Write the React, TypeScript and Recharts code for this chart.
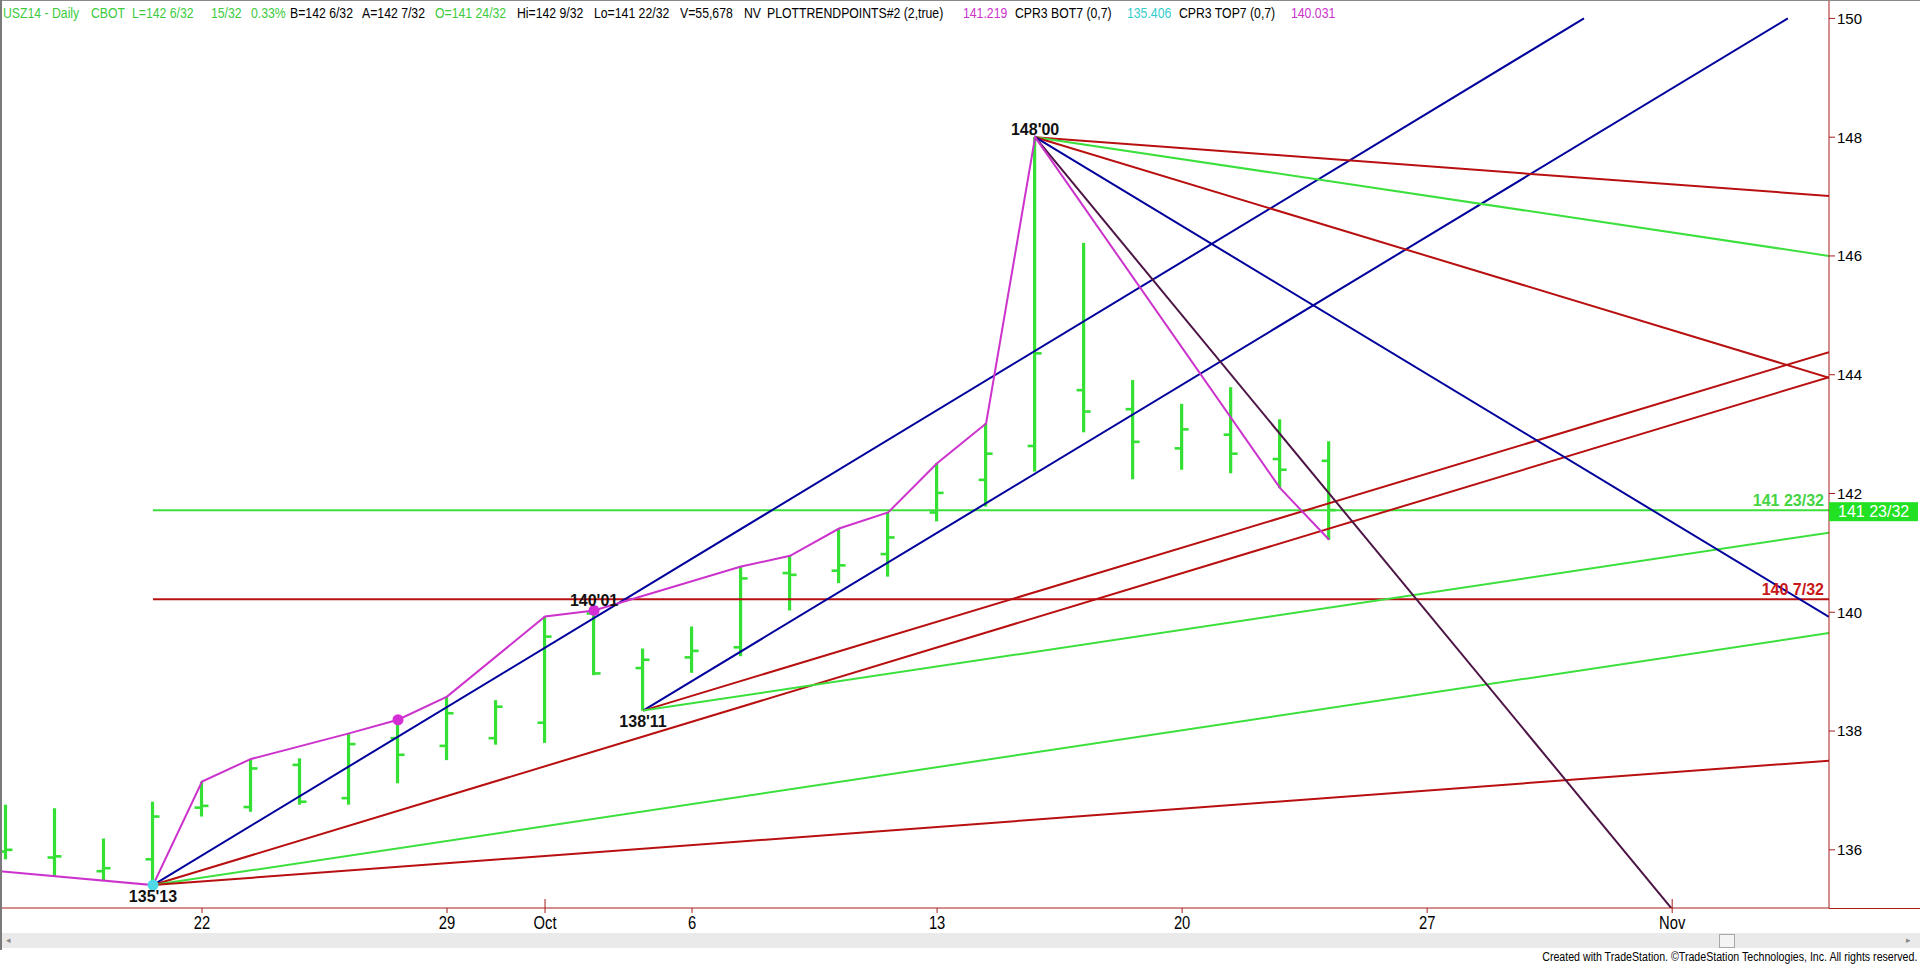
import React from 'react';
import { ComposedChart, Line, Bar, XAxis, YAxis, ReferenceDot } from 'recharts';

// ---------- data ----------
const dates = [
  'Sep 16', 'Sep 17', 'Sep 18', 'Sep 19', 'Sep 22', 'Sep 23', 'Sep 24', 'Sep 25', 'Sep 26',
  'Sep 29', 'Sep 30', 'Oct 1', 'Oct 2', 'Oct 3', 'Oct 6', 'Oct 7', 'Oct 8', 'Oct 9', 'Oct 10',
  'Oct 13', 'Oct 14', 'Oct 15', 'Oct 16', 'Oct 17', 'Oct 20', 'Oct 21', 'Oct 22', 'Oct 23',
];
const opens = [135.97, 135.87, 135.64, 135.84, 136.71, 136.72, 137.43, 136.87, 137.88, 137.75, 137.88, 138.14, 139.98, 139.06, 139.24, 139.41, 140.66, 140.70, 140.98, 141.68, 142.23, 142.80, 143.74, 143.42, 142.76, 142.99, 142.58, 142.55];
const highs = [136.76, 136.70, 136.19, 136.81, 137.15, 137.53, 137.54, 137.96, 138.19, 138.58, 138.52, 139.93, 140.03, 139.39, 139.76, 140.77, 140.95, 141.41, 141.68, 142.51, 143.18, 148.00, 146.22, 143.91, 143.51, 143.79, 143.25, 142.88];
const lows = [135.84, 135.55, 135.49, 135.406, 136.56, 136.64, 136.76, 136.76, 137.12, 137.51, 137.77, 137.80, 138.94, 138.344, 138.98, 139.26, 140.03, 140.49, 140.60, 141.53, 141.78, 142.37, 143.03, 142.24, 142.40, 142.34, 142.09, 141.22];
const closes = [136.00, 135.89, 135.69, 136.56, 136.74, 137.37, 136.81, 137.78, 137.60, 138.30, 138.41, 139.59, 138.97, 139.20, 139.35, 140.57, 140.63, 140.79, 141.26, 142.01, 142.67, 144.36, 143.38, 142.87, 143.08, 142.67, 142.40, 141.72];

const xTickIdx = [4, 9, 11, 14, 19, 24, 29, 34];
const xTickLabels = ['22', '29', 'Oct', '6', '13', '20', '27', 'Nov'];
const yTicks = [136, 138, 140, 142, 144, 146, 148, 150];

// PLOTTRENDPOINTS swing line (bar index, price)
const pinkX = [-0.122, 3, 4, 5, 7, 8, 9, 11, 12, 15, 16, 17, 18, 19, 20, 21, 26, 27];
const pinkY = [135.64, 135.406, 137.15, 137.53, 137.96, 138.19, 138.58, 139.93, 140.03, 140.77, 140.95, 141.41, 141.68, 142.51, 143.18, 148.0, 142.09, 141.22];

// trend lines: start (bar index, price) -> end (bar index, price)
const lineX1 = [3, 3, 3, 3, 13, 13, 13, 21, 21, 21, 21, 21];
const lineY1 = [135.406, 135.406, 135.406, 135.406, 138.344, 138.344, 138.344, 148.0, 148.0, 148.0, 148.0, 148.0];
const lineX2 = [32.2, 37.2, 37.2, 37.2, 36.36, 37.2, 37.2, 37.2, 37.2, 37.2, 37.2, 34.0];
const lineY2 = [150.0, 143.96, 139.65, 137.5, 150.0, 144.38, 141.34, 147.01, 146.0, 143.95, 139.92, 135.0];
const lineKind = ['blue', 'red', 'green', 'red', 'blue', 'red', 'green', 'red', 'green', 'red', 'blue', 'purple'];

// horizontal levels
const levelValues = [141.71875, 140.21875];
const levelLabels = ['141 23/32', '140 7/32'];
const levelStartX = [3, 3];
const levelKind = ['green', 'red'];

// pivot labels
const pivotX = [21, 12, 13, 3];
const pivotY = [148.0, 140.03, 138.344, 135.406];
const pivotText = ["148'00", "140'01", "138'11", "135'13"];
const pivotPos = ['top', 'top', 'bottom', 'bottom'];
const pivotOffset = [2, 4, 5, 6];

// dots
const dotX = [8, 12, 3];
const dotY = [138.19, 140.03, 135.406];
const dotKind = ['magenta', 'magenta', 'cyan'];

const lastLabel = '141 23/32';

// ---------- styles ----------
const X_END = 37.2;
const X_START = -0.122;
const COLORS: Record<string, string> = {
  blue: '#00009C',
  red: '#B81010',
  green: '#3CE03C',
  purple: '#4D1545',
  magenta: '#D52ED5',
  cyan: '#4DD9E6',
};
const BAR_GREEN = '#35E035';
const AXIS_RED = '#A81C1C';
const SANS = "'Liberation Sans', Arial, sans-serif";

const headerParts: { t: string; x: number; c: string }[] = [
  { t: 'USZ14 - Daily', x: 3, c: '#3DCB3D' },
  { t: 'CBOT', x: 91, c: '#3DCB3D' },
  { t: 'L=142 6/32', x: 132, c: '#3DCB3D' },
  { t: '15/32', x: 211, c: '#3DCB3D' },
  { t: '0.33%', x: 251, c: '#3DCB3D' },
  { t: 'B=142 6/32', x: 290, c: '#000' },
  { t: 'A=142 7/32', x: 362, c: '#000' },
  { t: 'O=141 24/32', x: 435, c: '#3DCB3D' },
  { t: 'Hi=142 9/32', x: 517, c: '#000' },
  { t: 'Lo=141 22/32', x: 594, c: '#000' },
  { t: 'V=55,678', x: 680, c: '#000' },
  { t: 'NV', x: 744, c: '#000' },
  { t: 'PLOTTRENDPOINTS#2 (2,true)', x: 767, c: '#000' },
  { t: '141.219', x: 963, c: '#CC33CC' },
  { t: 'CPR3 BOT7 (0,7)', x: 1015, c: '#000' },
  { t: '135.406', x: 1127, c: '#33CCCC' },
  { t: 'CPR3 TOP7 (0,7)', x: 1179, c: '#000' },
  { t: '140.031', x: 1291, c: '#CC33CC' },
];

// ---------- shapes ----------
const OHLC = (props: any) => {
  const { x, y, width, height, payload } = props;
  if (x == null || y == null || !payload) return null;
  const cx = x + width / 2;
  const top = Math.min(y, y + height);
  const h = Math.abs(height);
  const hi = payload.h;
  const lo = payload.l;
  const py = (p: number) => (hi === lo ? top : top + ((hi - p) / (hi - lo)) * h);
  const yo = py(payload.o);
  const yc = py(payload.c);
  return (
    <g>
      <rect x={cx - 1.6} y={top} width={3.2} height={Math.max(h, 1)} fill={BAR_GREEN} />
      <rect x={cx - 7} y={yo - 1.3} width={7} height={2.6} fill={BAR_GREEN} />
      <rect x={cx} y={yc - 1.3} width={7} height={2.6} fill={BAR_GREEN} />
    </g>
  );
};

const XTick = (props: any) => {
  const { x, y, payload } = props;
  const i = xTickIdx.indexOf(payload.value);
  const label = i >= 0 ? xTickLabels[i] : '';
  const isMonth = label === 'Oct' || label === 'Nov';
  return (
    <g>
      <line x1={x} x2={x} y1={isMonth ? y - 9 : y} y2={y + 5} stroke={AXIS_RED} strokeWidth={1} />
      <text
        transform={`translate(${x},${y + 21}) scale(0.82,1)`}
        x={0}
        y={0}
        textAnchor="middle"
        fontSize={18}
        fontFamily={SANS}
        fill="#000"
      >
        {label}
      </text>
    </g>
  );
};

const LevelLabel = (kind: string, text: string, withBox: boolean) => (props: any) => {
  const vb = props.viewBox || {};
  const cx = (vb.x ?? 0) + (vb.width ?? 0) / 2;
  const cy = (vb.y ?? 0) + (vb.height ?? 0) / 2;
  return (
    <g>
      <text
        x={cx - 5}
        y={cy - 4}
        textAnchor="end"
        fontSize={16}
        fontWeight="bold"
        fontFamily={SANS}
        fill={kind === 'green' ? '#44D444' : '#C81818'}
      >
        {text}
      </text>
      {withBox ? (
        <g>
          <rect x={cx} y={cy - 8} width={89} height={19} fill="#22E022" />
          <text x={cx + 9} y={cy + 7} fontSize={16} fontFamily={SANS} fill="#fff">
            {lastLabel}
          </text>
        </g>
      ) : null}
    </g>
  );
};

export default function App() {
  const rows = dates.map((d, i) => ({
    x: i,
    date: d,
    hl: [lows[i], highs[i]],
    o: opens[i],
    h: highs[i],
    l: lows[i],
    c: closes[i],
  }));
  const pinkData = pinkX.map((x, i) => ({ x, y: pinkY[i] }));

  return (
    <div
      style={{
        position: 'absolute',
        left: 0,
        top: 0,
        width: 1920,
        height: 964,
        background: '#fff',
        overflow: 'hidden',
      }}
    >
      <ComposedChart width={1920} height={964} data={rows} margin={{ top: 0, right: 0, bottom: 0, left: 0 }}>
        <XAxis
          dataKey="x"
          type="number"
          domain={[X_START, X_END]}
          allowDataOverflow
          ticks={xTickIdx}
          interval={0}
          tick={<XTick />}
          tickLine={false}
          tickSize={0}
          tickMargin={0}
          axisLine={{ stroke: AXIS_RED, strokeWidth: 1 }}
          height={56}
        />
        <YAxis
          orientation="right"
          type="number"
          domain={[135.02, 150.31]}
          allowDataOverflow
          ticks={yTicks}
          interval={0}
          width={91}
          tickSize={6}
          tickMargin={2}
          axisLine={{ stroke: AXIS_RED, strokeWidth: 1 }}
          tickLine={{ stroke: AXIS_RED }}
          tick={{ fill: '#000', fontSize: 15, fontFamily: SANS }}
        />

        {levelValues.map((v, i) => (
          <Line
            key={'lvl' + i}
            data={[
              { x: levelStartX[i], y: v },
              { x: X_END, y: v },
            ]}
            dataKey="y"
            stroke={COLORS[levelKind[i]]}
            strokeWidth={2}
            dot={false}
            activeDot={false}
            isAnimationActive={false}
          />
        ))}

        <Bar dataKey="hl" barSize={3} shape={(p: any) => <OHLC {...p} />} isAnimationActive={false} />

        {lineX1.map((x1, i) => (
          <Line
            key={'tl' + i}
            data={[
              { x: x1, y: lineY1[i] },
              { x: lineX2[i], y: lineY2[i] },
            ]}
            dataKey="y"
            stroke={COLORS[lineKind[i]]}
            strokeWidth={2}
            dot={false}
            activeDot={false}
            isAnimationActive={false}
          />
        ))}

        <Line
          data={pinkData}
          dataKey="y"
          stroke="#CC33CC"
          strokeWidth={2}
          dot={false}
          activeDot={false}
          isAnimationActive={false}
        />

        {dotX.map((x, i) => (
          <ReferenceDot
            key={'dot' + i}
            x={x}
            y={dotY[i]}
            r={5.5}
            fill={COLORS[dotKind[i]]}
            stroke="none"
            ifOverflow="visible"
          />
        ))}

        {pivotX.map((x, i) => (
          <ReferenceDot
            key={'pv' + i}
            x={x}
            y={pivotY[i]}
            r={0}
            fill="none"
            stroke="none"
            ifOverflow="visible"
            label={{
              value: pivotText[i],
              position: pivotPos[i] as any,
              offset: pivotOffset[i],
              fill: '#111',
              fontSize: 16,
              fontWeight: 'bold',
              fontFamily: SANS,
            }}
          />
        ))}

        {levelValues.map((v, i) => (
          <ReferenceDot
            key={'lbl' + i}
            x={X_END}
            y={v}
            r={0}
            fill="none"
            stroke="none"
            ifOverflow="visible"
            label={LevelLabel(levelKind[i], levelLabels[i], i === 0)}
          />
        ))}
      </ComposedChart>

      {/* header */}
      {headerParts.map((p, i) => (
        <div
          key={'h' + i}
          style={{
            position: 'absolute',
            left: p.x,
            top: 4,
            fontFamily: SANS,
            fontSize: 15.5,
            lineHeight: '18px',
            color: p.c,
            whiteSpace: 'nowrap',
            transform: 'scaleX(0.79)',
            transformOrigin: 'left center',
          }}
        >
          {p.t}
        </div>
      ))}

      {/* frame */}
      <div style={{ position: 'absolute', left: 0, top: 0, width: 1920, height: 1, background: '#8a8a8a' }} />
      <div style={{ position: 'absolute', left: 0, top: 0, width: 2, height: 950, background: '#7a7a7a' }} />
      <div style={{ position: 'absolute', left: 1829, top: 908, width: 91, height: 1, background: AXIS_RED }} />

      {/* scrollbar */}
      <div style={{ position: 'absolute', left: 2, top: 933, width: 1918, height: 15, background: '#EAEAEA' }} />
      <div
        style={{
          position: 'absolute',
          left: 6,
          top: 933,
          fontSize: 9,
          lineHeight: '15px',
          color: '#888',
          fontFamily: SANS,
        }}
      >
        ◂
      </div>
      <div
        style={{
          position: 'absolute',
          left: 1906,
          top: 933,
          fontSize: 9,
          lineHeight: '15px',
          color: '#888',
          fontFamily: SANS,
        }}
      >
        ▸
      </div>
      <div
        style={{
          position: 'absolute',
          left: 1719,
          top: 934,
          width: 14,
          height: 12,
          background: '#F4F4F4',
          border: '1px solid #A8A8A8',
        }}
      />

      {/* footer */}
      <div
        style={{
          position: 'absolute',
          right: 3,
          top: 950,
          fontFamily: SANS,
          fontSize: 12.5,
          lineHeight: '14px',
          color: '#000',
          whiteSpace: 'nowrap',
          transform: 'scaleX(0.85)',
          transformOrigin: 'right center',
        }}
      >
        Created with TradeStation. ©TradeStation Technologies, Inc. All rights reserved.
      </div>
    </div>
  );
}
